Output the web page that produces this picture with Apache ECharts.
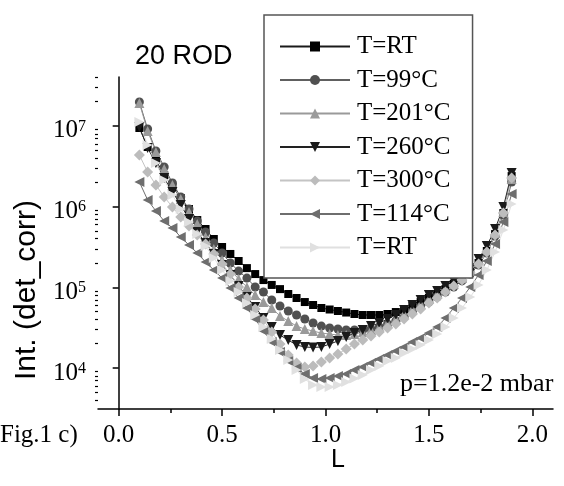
<!DOCTYPE html>
<html>
<head>
<meta charset="utf-8">
<script src="https://cdn.jsdelivr.net/npm/echarts@6/dist/echarts.min.js"></script>
<style>
  html, body { margin: 0; padding: 0; background: #fff; }
  #chart { width: 564px; height: 486px; }
</style>
</head>
<body>
<div id="chart"></div>
<script>
// L positions shared by every curve
const lValues = [0.10, 0.14, 0.18, 0.22, 0.26, 0.30, 0.34, 0.38, 0.42, 0.46,
  0.50, 0.54, 0.58, 0.62, 0.66, 0.70, 0.74, 0.78, 0.82, 0.86,
  0.90, 0.94, 0.98, 1.02, 1.06, 1.10, 1.14, 1.18, 1.22, 1.26,
  1.30, 1.34, 1.38, 1.42, 1.46, 1.50, 1.54, 1.58, 1.62, 1.66,
  1.70, 1.74, 1.78, 1.82, 1.86, 1.90];

const rtFirst = [9.42e6, 5.48e6, 3.78e6, 2.46e6, 1.75e6, 1.28e6, 9.34e5, 6.82e5, 5.28e5, 3.97e5,
  3.16e5, 2.59e5, 2.12e5, 1.73e5, 1.46e5, 1.23e5, 1.07e5, 9.5e4, 8.26e4, 7.37e4,
  6.57e4, 6.04e4, 5.54e4, 5.31e4, 5.09e4, 4.87e4, 4.67e4, 4.54e4, 4.54e4, 4.54e4,
  4.67e4, 4.94e4, 5.23e4, 5.87e4, 6.57e4, 7.37e4, 8.26e4, 9.5e4, 1.10e5, 1.27e5,
  1.55e5, 2.0e5, 2.82e5, 4.57e5, 8.33e5, 2.39e6];

const t99 = [1.98e7, 9.16e6, 4.89e6, 3.10e6, 1.96e6, 1.32e6, 9.34e5, 6.63e5, 4.84e5, 3.54e5,
  2.66e5, 2.0e5, 1.59e5, 1.30e5, 1.01e5, 8.74e4, 6.96e4, 5.87e4, 5.09e4, 4.54e4,
  4.05e4, 3.61e4, 3.31e4, 3.13e4, 3.04e4, 2.96e4, 2.96e4, 2.96e4, 3.04e4, 3.22e4,
  3.51e4, 3.82e4, 4.29e4, 4.94e4, 5.70e4, 6.57e4, 7.58e4, 8.74e4, 1.01e5, 1.20e5,
  1.46e5, 1.89e5, 2.66e5, 4.32e5, 7.87e5, 2.02e6];

const t201 = [1.92e7, 8.65e6, 4.75e6, 2.92e6, 1.85e6, 1.24e6, 8.57e5, 6.09e5, 4.20e5, 2.98e5,
  2.18e5, 1.64e5, 1.27e5, 1.01e5, 8.03e4, 6.57e4, 5.54e4, 4.41e4, 3.82e4, 3.31e4,
  3.04e4, 2.87e4, 2.71e4, 2.64e4, 2.56e4, 2.56e4, 2.64e4, 2.79e4, 2.96e4, 3.22e4,
  3.61e4, 4.05e4, 4.67e4, 5.38e4, 6.21e4, 7.16e4, 8.26e4, 9.5e4, 1.10e5, 1.30e5,
  1.59e5, 2.06e5, 2.90e5, 4.71e5, 8.57e5, 2.20e6];

const t260 = [9.69e6, 5.32e6, 3.47e6, 2.26e6, 1.52e6, 1.05e6, 7.02e5, 4.84e5, 3.54e5, 2.59e5,
  1.89e5, 1.42e5, 1.04e5, 7.58e4, 5.70e4, 4.17e4, 3.22e4, 2.56e4, 2.22e4, 1.93e4,
  1.82e4, 1.80e4, 1.82e4, 1.98e4, 2.16e4, 2.42e4, 2.71e4, 2.96e4, 3.31e4, 3.61e4,
  4.05e4, 4.54e4, 5.23e4, 6.04e4, 6.96e4, 8.03e4, 9.0e4, 1.04e5, 1.20e5, 1.42e5,
  1.73e5, 2.24e5, 3.25e5, 5.28e5, 9.89e5, 2.61e6];

const t300 = [4.36e6, 2.68e6, 1.85e6, 1.32e6, 9.89e5, 7.43e5, 5.75e5, 4.45e5, 3.44e5, 2.59e5,
  1.94e5, 1.46e5, 1.01e5, 7.37e4, 5.38e4, 3.94e4, 2.79e4, 1.98e4, 1.45e4, 1.15e4,
  1.03e4, 1.06e4, 1.19e4, 1.33e4, 1.49e4, 1.72e4, 1.98e4, 2.22e4, 2.49e4, 2.79e4,
  3.13e4, 3.51e4, 4.05e4, 4.67e4, 5.38e4, 6.38e4, 7.37e4, 8.74e4, 1.04e5, 1.23e5,
  1.50e5, 1.94e5, 2.74e5, 4.45e5, 8.33e5, 2.26e6];

const t114 = [2.02e6, 1.21e6, 8.82e5, 6.63e5, 5.43e5, 4.20e5, 3.34e5, 2.66e5, 2.06e5, 1.64e5,
  1.30e5, 9.8e4, 7.37e4, 5.54e4, 4.05e4, 2.87e4, 2.10e4, 1.58e4, 1.22e4, 1.0e4,
  8.43e3, 7.52e3, 7.31e3, 7.52e3, 7.96e3, 8.43e3, 9.45e3, 1.03e4, 1.15e4, 1.29e4,
  1.45e4, 1.62e4, 1.82e4, 2.10e4, 2.35e4, 2.71e4, 3.22e4, 4.17e4, 5.54e4, 7.37e4,
  1.01e5, 1.42e5, 2.12e5, 3.44e5, 6.44e5, 1.43e6];

const rtSecond = [1.12e7, 5.80e6, 3.47e6, 2.14e6, 1.39e6, 9.34e5, 6.44e5, 4.57e5, 3.25e5, 2.31e5,
  1.64e5, 1.20e5, 8.74e4, 6.38e4, 4.54e4, 3.22e4, 2.29e4, 1.67e4, 1.26e4, 9.45e3,
  7.31e3, 6.16e3, 5.82e3, 5.82e3, 6.16e3, 6.71e3, 7.41e3, 8.19e3, 9.45e3, 1.06e4,
  1.22e4, 1.33e4, 1.53e4, 1.72e4, 1.93e4, 2.22e4, 2.64e4, 3.22e4, 4.17e4, 5.54e4,
  7.58e4, 1.07e5, 1.64e5, 2.74e5, 5.13e5, 1.08e6];

const seriesNames = ['T=RT', 'T=99°C', 'T=201°C', 'T=260°C', 'T=300°C', 'T=114°C', 'T=RT#2'];

// axis ranges and ticks
const xMin = -0.1, xMax = 2.1;
const xMajorTicks = [0, 0.5, 1.0, 1.5, 2.0];
const xMinorTicks = [0.25, 0.75, 1.25, 1.75];
const yMin = 3105, yMax = 4.04e7;
const yDecades = [4, 5, 6, 7];
const yMinorMultipliers = [2, 3, 4, 5, 6, 7, 8, 9];

const serif = '"Liberation Serif", "Times New Roman", serif';
const sans = '"Liberation Sans", Arial, sans-serif';

// minor log ticks, placed on a companion axis in log10 units
const yMinorTicks = [];
[3, 4, 5, 6, 7].forEach((d) => {
  yMinorMultipliers.forEach((m) => {
    const lg = d + Math.log10(m);
    if (lg >= Math.log10(yMin) && lg <= Math.log10(yMax)) yMinorTicks.push(lg);
  });
});

const makeSeries = (name, values, symbol, rotate, size, color, lineColor) => ({
  name,
  type: 'line',
  xAxisIndex: 0,
  yAxisIndex: 0,
  data: values.map((v, i) => [lValues[i], v]),
  symbol,
  symbolRotate: rotate,
  symbolSize: size,
  showSymbol: true,
  animation: false,
  itemStyle: { color, borderWidth: 0 },
  lineStyle: { color: lineColor, width: 1 },
  emphasis: { disabled: true },
});

const chart = echarts.init(document.getElementById('chart'), null, { renderer: 'canvas' });

chart.setOption({
  backgroundColor: '#fff',
  animation: false,
  grid: { left: 98, top: 77, right: 11, bottom: 77 },
  xAxis: [
    {
      type: 'value', min: xMin, max: xMax, position: 'bottom',
      axisLine: { lineStyle: { color: '#000', width: 1.5 } },
      axisTick: { customValues: xMajorTicks, length: 7, lineStyle: { color: '#000', width: 1.5 } },
      axisLabel: {
        customValues: xMajorTicks, margin: 14, color: '#000',
        fontFamily: serif, fontSize: 25, formatter: (v) => v.toFixed(1),
      },
      splitLine: { show: false },
    },
    {
      type: 'value', min: xMin, max: xMax, position: 'bottom',
      axisLine: { show: false },
      axisTick: { customValues: xMinorTicks, length: 4, lineStyle: { color: '#000', width: 1.5 } },
      axisLabel: { show: false },
      splitLine: { show: false },
    },
  ],
  yAxis: [
    {
      type: 'log', min: yMin, max: yMax, position: 'left',
      axisLine: { show: true, lineStyle: { color: '#000', width: 1.5 } },
      axisTick: { show: false },
      axisLabel: { show: false },
      splitLine: { show: false },
    },
    {
      type: 'value', min: Math.log10(yMin), max: Math.log10(yMax), position: 'left',
      axisLine: { show: false },
      axisTick: { customValues: yDecades, length: 6, lineStyle: { color: '#000', width: 1.5 } },
      axisLabel: {
        customValues: yDecades, margin: 12, padding: [10, 0, 0, 0],
        formatter: (v) => '{b|10}{s|' + Math.round(v) + '}',
        rich: {
          b: { fontFamily: serif, fontSize: 25, lineHeight: 25, color: '#000' },
          s: { fontFamily: serif, fontSize: 16, lineHeight: 16, color: '#000', verticalAlign: 'top' },
        },
      },
      splitLine: { show: false },
    },
    {
      type: 'value', min: Math.log10(yMin), max: Math.log10(yMax), position: 'left',
      axisLine: { show: false },
      axisTick: { customValues: yMinorTicks, length: 3, lineStyle: { color: '#000', width: 1.2 } },
      axisLabel: { show: false },
      splitLine: { show: false },
    },
  ],
  legend: {
    orient: 'vertical',
    left: 264,
    top: 15,
    padding: [19, 22, 18, 15],
    itemGap: 8.5,
    itemWidth: 70,
    itemHeight: 12.5,
    backgroundColor: '#fff',
    borderColor: '#555',
    borderWidth: 1.5,
    borderRadius: 0,
    selectedMode: false,
    data: seriesNames,
    formatter: (name) => name.split('#')[0],
    textStyle: { fontFamily: serif, fontSize: 25, lineHeight: 25, color: '#000', padding: [0, 0, 0, 2] },
  },
  series: [
    makeSeries(seriesNames[0], rtFirst, 'rect', 0, 8, '#000000', '#1a1a1a'),
    makeSeries(seriesNames[1], t99, 'circle', 0, 9, '#505050', '#606060'),
    makeSeries(seriesNames[2], t201, 'triangle', 0, 10, '#9a9a9a', '#9a9a9a'),
    makeSeries(seriesNames[3], t260, 'triangle', 180, 10, '#1a1a1a', '#222222'),
    makeSeries(seriesNames[4], t300, 'diamond', 0, 11, '#bcbcbc', '#c4c4c4'),
    makeSeries(seriesNames[5], t114, 'triangle', 90, 10, '#6e6e6e', '#6e6e6e'),
    makeSeries(seriesNames[6], rtSecond, 'triangle', -90, 10, '#e0e0e0', '#e0e0e0'),
  ],
  graphic: [
    { type: 'text', left: 135, top: 43, style: { text: '20 ROD', font: '27px ' + sans, fill: '#000' } },
    { type: 'text', left: 400, top: 371, style: { text: 'p=1.2e-2 mbar', font: '26px ' + serif, fill: '#000' } },
    { type: 'text', left: 0, top: 423, style: { text: 'Fig.1 c)', font: '25px ' + serif, fill: '#000' } },
    { type: 'text', left: 331, top: 448, style: { text: 'L', font: '25px ' + sans, fill: '#000' } },
    {
      type: 'text', x: 27, y: 290, rotation: Math.PI / 2,
      style: { text: 'Int. (det_corr)', font: '30px ' + sans, fill: '#000', align: 'center', verticalAlign: 'middle', textAlign: 'center', textVerticalAlign: 'middle' },
    },
  ],
});
</script>
</body>
</html>
